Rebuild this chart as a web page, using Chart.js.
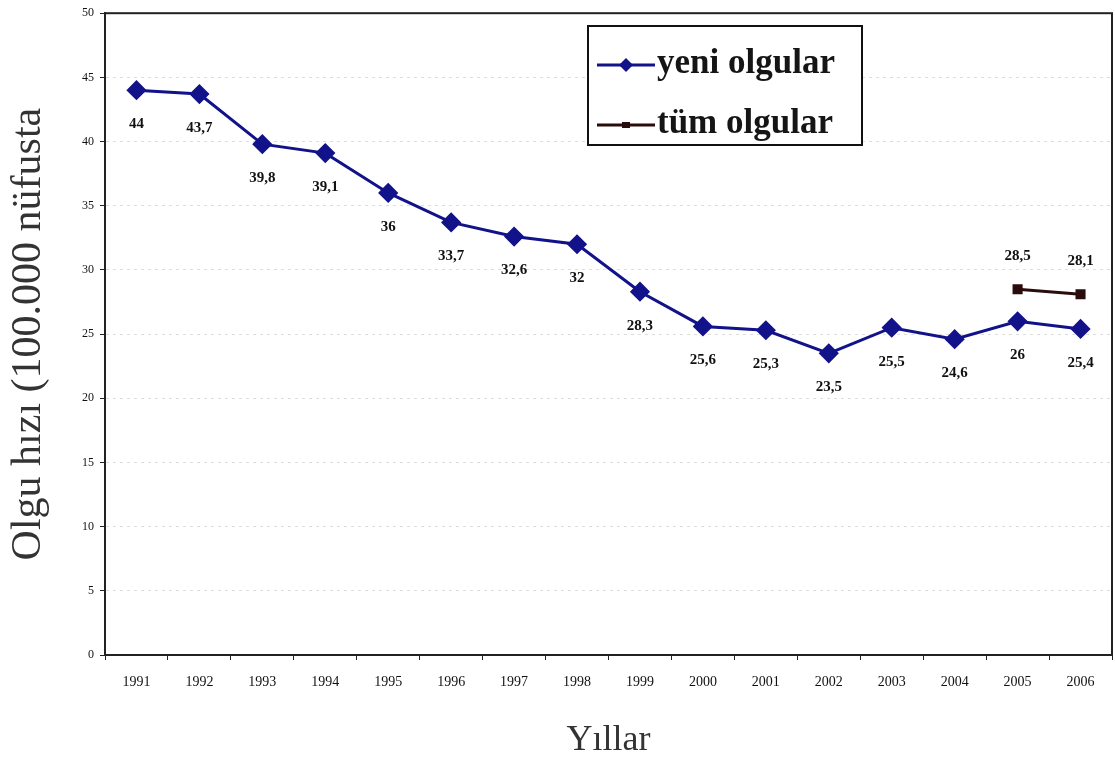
<!DOCTYPE html>
<html>
<head>
<meta charset="utf-8">
<script src="https://cdn.jsdelivr.net/npm/chart.js@4"></script>
<style>
  html, body { margin: 0; padding: 0; background: #fff; overflow: hidden; }
  .wrap { position: relative; width: 1115px; height: 766px; overflow: hidden; }
  .legend {
    position: absolute; left: 587px; top: 25px; width: 276px; height: 121px;
    border: 2px solid #111; background: #fff; box-sizing: border-box;
    font-family: "Liberation Serif", serif; font-size: 35px; font-weight: bold; color: #151515;
  }
  .legend .row { position: absolute; left: 6px; height: 44px; line-height: 44px; white-space: nowrap; }
  .legend canvas { vertical-align: middle; }
</style>
</head>
<body>
<div class="wrap">
  <canvas id="c" width="1123" height="766"></canvas>
  <div class="legend">
    <div class="row" style="top:13px"><canvas id="lg1" width="62" height="20"></canvas>yeni olgular</div>
    <div class="row" style="top:73px"><canvas id="lg2" width="62" height="20"></canvas>tüm olgular</div>
  </div>
</div>
<script>
const years = ['1991','1992','1993','1994','1995','1996','1997','1998','1999','2000','2001','2002','2003','2004','2005','2006'];
const yeniOlgular = [44, 43.7, 39.8, 39.1, 36, 33.7, 32.6, 32, 28.3, 25.6, 25.3, 23.5, 25.5, 24.6, 26, 25.4];
const tumOlgular = [null, null, null, null, null, null, null, null, null, null, null, null, null, null, 28.5, 28.1];

const blue = '#12128a';
const dark = '#2a0c0c';

// legend swatches
function drawSwatch(id, color, diamond) {
  const ctx = document.getElementById(id).getContext('2d');
  ctx.strokeStyle = color;
  ctx.fillStyle = color;
  ctx.lineWidth = 3;
  ctx.beginPath();
  ctx.moveTo(2, 10);
  ctx.lineTo(60, 10);
  ctx.stroke();
  ctx.beginPath();
  if (diamond) {
    ctx.moveTo(31, 3); ctx.lineTo(38, 10); ctx.lineTo(31, 17); ctx.lineTo(24, 10);
  } else {
    ctx.rect(27, 7, 8, 6);
  }
  ctx.fill();
}
drawSwatch('lg1', blue, true);
drawSwatch('lg2', dark, false);

const fmt = v => String(v).replace('.', ',');

const labelPlugin = {
  id: 'pointLabels',
  afterDatasetsDraw(chart) {
    const {ctx} = chart;
    ctx.save();
    ctx.font = 'bold 15px "Liberation Serif"';
    ctx.fillStyle = '#111';
    ctx.textAlign = 'center';
    ctx.textBaseline = 'middle';
    chart.data.datasets.forEach((ds, di) => {
      const meta = chart.getDatasetMeta(di);
      meta.data.forEach((pt, i) => {
        if (ds.data[i] == null) return;
        const off = di === 0 ? 34 : -33;
        ctx.fillText(fmt(ds.data[i]), pt.x, pt.y + off);
      });
    });
    ctx.restore();
  }
}

const framePlugin = {
  id: 'frame',
  beforeDatasetsDraw(chart) {
    const {ctx, chartArea: {top, bottom, left, right}} = chart;
    ctx.save();
    ctx.strokeStyle = '#222';
    ctx.lineWidth = 2;
    ctx.strokeRect(left, top, right - left, bottom - top);
    ctx.restore();
  }
}

new Chart(document.getElementById('c'), {
  type: 'line',
  data: {
    labels: years,
    datasets: [
      {
        label: 'yeni olgular',
        data: yeniOlgular,
        borderColor: blue,
        backgroundColor: blue,
        borderWidth: 3,
        pointStyle: 'rectRot',
        pointRadius: 8,
        tension: 0
      },
      {
        label: 'tüm olgular',
        data: tumOlgular,
        borderColor: dark,
        backgroundColor: dark,
        borderWidth: 3,
        pointStyle: 'rect',
        pointRadius: 5,
        tension: 0
      }
    ]
  },
  options: {
    responsive: false,
    animation: false,
    layout: { padding: { top: 12, right: 0, left: 0, bottom: 0 } },
    plugins: {
      legend: { display: false },
      tooltip: { enabled: false }
    },
    scales: {
      x: {
        offset: true,
        grid: { offset: true, drawOnChartArea: false, tickLength: 5, color: '#222' },
        border: { color: '#222', width: 2 },
        ticks: { color: '#111', font: { family: 'Liberation Serif', size: 14 }, padding: 14, maxRotation: 0, autoSkip: false },
        title: { display: true, text: 'Yıllar', color: '#333', font: { family: 'Liberation Serif', size: 36 }, padding: { top: 12 } },
        afterFit(scale) { scale.height = 111; }
      },
      y: {
        min: 0,
        max: 50,
        ticks: { stepSize: 5, color: '#111', font: { family: 'Liberation Serif', size: 12 }, padding: 6 },
        grid: { color: '#dcdcdc', tickColor: '#222', tickLength: 5, drawTicks: true },
        border: { color: '#222', width: 2, dash: [3, 4] },
        title: { display: true, text: 'Olgu hızı (100.000 nüfusta', color: '#333', font: { family: 'Liberation Serif', size: 42 }, padding: { bottom: 12 } },
        afterFit(scale) { scale.width = 105; }
      }
    }
  },
  plugins: [framePlugin, labelPlugin]
});
</script>
</body>
</html>
